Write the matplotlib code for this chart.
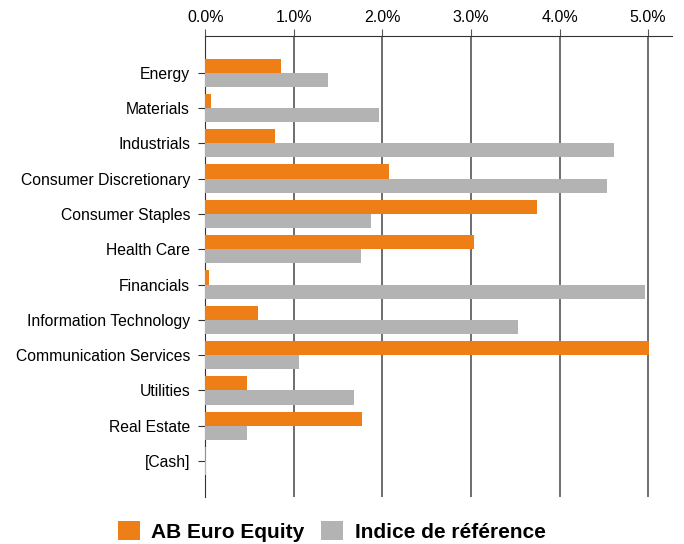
import matplotlib.pyplot as plt
import numpy as np
from matplotlib.ticker import FuncFormatter

plt.rcParams['font.family'] = ['Liberation Sans', 'DejaVu Sans']

sectors = ["Energy", "Materials", "Industrials", "Consumer Discretionary",
           "Consumer Staples", "Health Care", "Financials",
           "Information Technology", "Communication Services", "Utilities",
           "Real Estate", "[Cash]"]
fund = [0.85, 0.07, 0.79, 2.07, 3.74, 3.03, 0.04, 0.59, 5.01, 0.47, 1.77, 0.01]
bench = [1.39, 1.96, 4.61, 4.54, 1.87, 1.76, 4.97, 3.53, 1.06, 1.68, 0.47, 0.01]

orange = "#ee7f16"
grey = "#b3b3b3"

fig = plt.figure(figsize=(6.84, 5.44), dpi=100)
ax = fig.add_axes([205.3 / 684, 1 - 497 / 544, (672 - 205.3) / 684, (497 - 36) / 544])

y = np.arange(len(sectors))
h = 0.4
ax.barh(y - h / 2, fund, height=h, color=orange, label="AB Euro Equity", zorder=3)
ax.barh(y + h / 2, bench, height=h, color=grey, label="Indice de référence", zorder=3)

ax.set_xlim(0, 5.27)
ax.set_ylim(11 + 1.02, -1.04)
ax.set_yticks(y)
ax.set_yticklabels(sectors, fontsize=11.3)
ax.set_xticks(np.arange(0, 6, 1))
ax.xaxis.set_major_formatter(FuncFormatter(lambda v, p: f"{v:.1f}%"))
ax.xaxis.tick_top()
ax.tick_params(axis='x', labelsize=11.5, length=5, color="#555555", pad=3)
ax.tick_params(axis='y', length=5, color="#333333", pad=6)
ax.grid(axis='x', color="#555555", linewidth=1.2, zorder=0)

for s in ["right", "bottom"]:
    ax.spines[s].set_visible(False)
ax.spines["top"].set_color("#333333")
ax.spines["left"].set_color("#333333")

fig.legend(loc="lower center", bbox_to_anchor=(0.485, -0.03), ncol=2, frameon=False,
           prop={'weight': 'bold', 'size': 15}, handlelength=1.05, handleheight=1.05,
           handletextpad=0.55, columnspacing=0.8)

fig.savefig("out.png", dpi=100)
